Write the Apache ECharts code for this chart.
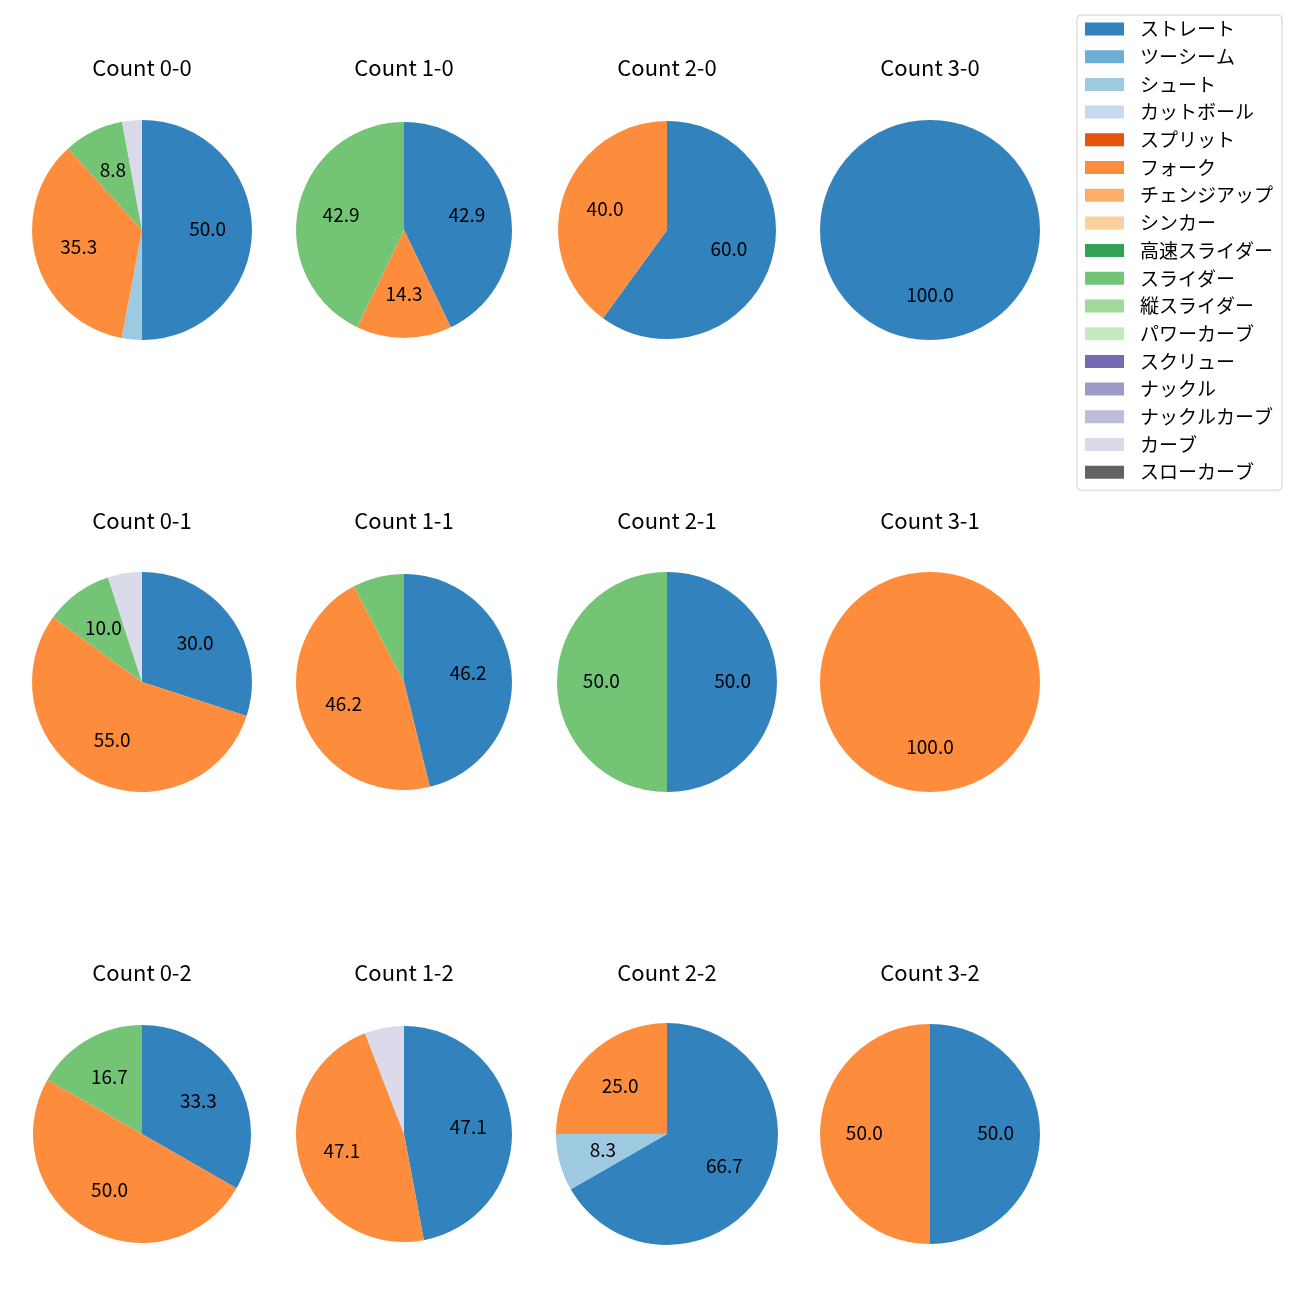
<!DOCTYPE html>
<html>
<head>
<meta charset="utf-8">
<script src="https://cdn.jsdelivr.net/npm/echarts@6/dist/echarts.min.js"></script>
<style>html,body{margin:0;padding:0;background:#fff;}#chart{width:1300px;height:1300px;}</style>
</head>
<body>
<div id="chart"></div>
<script>
// ---- data ----
const categories = ['ストレート','ツーシーム','シュート','カットボール','スプリット','フォーク','チェンジアップ','シンカー','高速スライダー','スライダー','縦スライダー','パワーカーブ','スクリュー','ナックル','ナックルカーブ','カーブ','スローカーブ'];
const countLabels = ['Count 0-0','Count 1-0','Count 2-0','Count 3-0','Count 0-1','Count 1-1','Count 2-1','Count 3-1','Count 0-2','Count 1-2','Count 2-2','Count 3-2'];
//                ストレ ツー  シュ  カット スプ フォーク チェ シン 高速 スラ  縦  パワ スク ナッ ナカ カーブ スロ
const pie00 = [50.0, 0, 2.9, 0, 0, 35.3, 0, 0, 0,  8.8, 0, 0, 0, 0, 0, 2.9, 0];
const pie10 = [42.9, 0, 0,   0, 0, 14.3, 0, 0, 0, 42.9, 0, 0, 0, 0, 0, 0,   0];
const pie20 = [60.0, 0, 0,   0, 0, 40.0, 0, 0, 0,  0,   0, 0, 0, 0, 0, 0,   0];
const pie30 = [100.0,0, 0,   0, 0, 0,    0, 0, 0,  0,   0, 0, 0, 0, 0, 0,   0];
const pie01 = [30.0, 0, 0,   0, 0, 55.0, 0, 0, 0, 10.0, 0, 0, 0, 0, 0, 5.0, 0];
const pie11 = [46.2, 0, 0,   0, 0, 46.2, 0, 0, 0,  7.7, 0, 0, 0, 0, 0, 0,   0];
const pie21 = [50.0, 0, 0,   0, 0, 0,    0, 0, 0, 50.0, 0, 0, 0, 0, 0, 0,   0];
const pie31 = [0,    0, 0,   0, 0, 100.0,0, 0, 0,  0,   0, 0, 0, 0, 0, 0,   0];
const pie02 = [33.3, 0, 0,   0, 0, 50.0, 0, 0, 0, 16.7, 0, 0, 0, 0, 0, 0,   0];
const pie12 = [47.1, 0, 0,   0, 0, 47.1, 0, 0, 0,  0,   0, 0, 0, 0, 0, 5.9, 0];
const pie22 = [66.7, 0, 8.3, 0, 0, 25.0, 0, 0, 0,  0,   0, 0, 0, 0, 0, 0,   0];
const pie32 = [50.0, 0, 0,   0, 0, 50.0, 0, 0, 0,  0,   0, 0, 0, 0, 0, 0,   0];
const pies = [pie00,pie10,pie20,pie30,pie01,pie11,pie21,pie31,pie02,pie12,pie22,pie32];

// ---- styles / layout ----
const colors = ['#3182bd','#6baed6','#9ecae1','#c6dbef','#e6550d','#fd8d3c','#fdae6b','#fdd0a2','#31a354','#74c476','#a1d99b','#c7e9c0','#756bb1','#9e9ac8','#bcbddc','#dadaeb','#636363'];
const centersX = [142, 404, 667, 930];
const centersY = [230, 682, 1134];
const titleY = [68, 521, 973];
const radii = [110,108,109,110, 110,108,110,110, 109,108,111,110];
const FONT = '"Noto Sans CJK JP", "Noto Sans", sans-serif';
const labelThreshold = 8;

const series = [];
const graphics = [];
pies.forEach((vals, i) => {
  const col = i % 4, row = Math.floor(i / 4);
  const cx = centersX[col], cy = centersY[row], r = radii[i];
  series.push({
    type: 'pie', center: [cx, cy], radius: [0, r], startAngle: 90, clockwise: true,
    avoidLabelOverlap: false, silent: true, animation: false,
    label: {show: false}, labelLine: {show: false}, emphasis: {disabled: true},
    data: categories.map((c, k) => ({name: c, value: vals[k], itemStyle: {color: colors[k]}}))
  });
  // transparent overlay used only to place labels at ~0.6 of the radius
  series.push({
    type: 'pie', center: [cx, cy], radius: [0, r * 1.14], startAngle: 90, clockwise: true,
    avoidLabelOverlap: false, silent: true, animation: false, labelLine: {show: false},
    emphasis: {disabled: true}, legendHoverLink: false,
    itemStyle: {color: 'rgba(0,0,0,0)', opacity: 0},
    data: categories.map((c, k) => ({
      name: c, value: vals[k],
      label: {show: vals[k] >= labelThreshold, position: 'inside', color: '#000', fontSize: 19, fontFamily: FONT,
              formatter: p => p.value.toFixed(1), opacity: 1, offset: [0, -1]}
    }))
  });
  graphics.push({
    type: 'text', x: cx, y: titleY[row],
    style: {text: countLabels[i], fill: '#000', font: '22px ' + FONT, textAlign: 'center', textVerticalAlign: 'middle'}
  });
});

const chart = echarts.init(document.getElementById('chart'));
chart.setOption({
  backgroundColor: '#fff',
  animation: false,
  legend: {
    orient: 'vertical', left: 1077, top: 15,
    data: categories, icon: 'rect', itemWidth: 39, itemHeight: 13, itemGap: 7.7,
    padding: [4, 9, 8, 8], backgroundColor: '#fff', borderColor: '#d0d0d0', borderWidth: 1, borderRadius: 4,
    selectedMode: false,
    textStyle: {fontSize: 19, fontFamily: FONT, color: '#000', lineHeight: 20, padding: [0, 0, 0, 11]}
  },
  graphic: graphics,
  series: series
});
</script>
</body>
</html>
